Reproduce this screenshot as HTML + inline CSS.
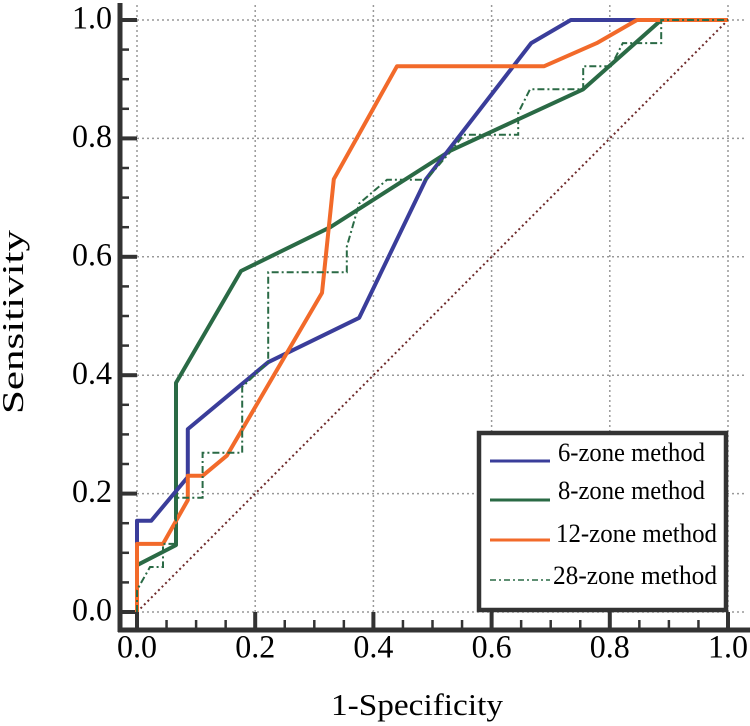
<!DOCTYPE html>
<html><head><meta charset="utf-8"><style>
body{margin:0;background:#fff}
svg{display:block;font-family:"Liberation Serif",serif}
</style></head><body>
<svg id="chart" width="750" height="726" viewBox="0 0 750 726" xmlns="http://www.w3.org/2000/svg">
<g id="grid"></g>
<g id="axes"></g>
<g id="series"></g>
<g id="legend">
<rect x="479" y="433" width="247" height="177" fill="#fff" stroke="#333" stroke-width="4.5"/>
<line x1="490" y1="461" x2="550" y2="461" stroke="#3a3d9a" stroke-width="3"/>
<text x="558" y="455" font-size="26" textLength="147" lengthAdjust="spacingAndGlyphs" dominant-baseline="middle">6-zone method</text>
<line x1="490" y1="500" x2="550" y2="500" stroke="#2a6a45" stroke-width="3"/>
<text x="558" y="493" font-size="26" textLength="147" lengthAdjust="spacingAndGlyphs" dominant-baseline="middle">8-zone method</text>
<line x1="490" y1="540" x2="550" y2="540" stroke="#f26a2a" stroke-width="3"/>
<text x="556" y="536" font-size="26" textLength="161" lengthAdjust="spacingAndGlyphs" dominant-baseline="middle">12-zone method</text>
<line x1="490" y1="580" x2="550" y2="580" stroke="#2a6a45" stroke-width="1.5" stroke-dasharray="6,3,2,3"/>
<text x="553" y="578" font-size="26" textLength="164" lengthAdjust="spacingAndGlyphs" dominant-baseline="middle">28-zone method</text>
</g>
<text x="331" y="708" font-size="31" textLength="172" lengthAdjust="spacingAndGlyphs" dominant-baseline="middle">1-Specificity</text>
<text transform="translate(16,414) rotate(-90)" font-size="31" textLength="184" lengthAdjust="spacingAndGlyphs" dominant-baseline="middle">Sensitivity</text>
</svg>
<script>
const xTicks=[0,0.2,0.4,0.6,0.8,1.0];
const yTicks=[0,0.2,0.4,0.6,0.8,1.0];
const tickLabels=["0.0","0.2","0.4","0.6","0.8","1.0"];
const x6=[0,0,0.024,0.086,0.086,0.222,0.376,0.489,0.667,0.734,1];
const y6=[0.115,0.154,0.154,0.228,0.309,0.422,0.497,0.731,0.961,1,1];
const x8=[0,0.066,0.066,0.176,0.327,0.53,0.755,0.887,1];
const y8=[0.079,0.113,0.387,0.576,0.65,0.779,0.883,1,1];
const x12=[0,0,0.044,0.086,0.086,0.111,0.152,0.313,0.333,0.44,0.689,0.778,0.846,1];
const y12=[0,0.115,0.115,0.189,0.23,0.23,0.264,0.539,0.731,0.922,0.922,0.961,1,1];
const x28=[0,0,0.022,0.044,0.044,0.066,0.066,0.111,0.111,0.178,0.178,0.222,0.222,0.355,0.355,0.376,0.423,0.489,0.53,0.553,0.645,0.645,0.665,0.755,0.755,0.802,0.822,0.887,0.887,1];
const y28=[0,0.037,0.076,0.076,0.115,0.115,0.193,0.193,0.269,0.269,0.38,0.422,0.574,0.574,0.617,0.69,0.73,0.73,0.777,0.806,0.806,0.843,0.883,0.883,0.922,0.922,0.961,0.961,1,1];
const refX=[0,1], refY=[0,1];
const NS="http://www.w3.org/2000/svg";
const X0=137,XS=591,Y0=612,YS=592;
function sx(v){return X0+v*XS;}
function sy(v){return Y0-v*YS;}
function mk(tag,attrs,parent){const e=document.createElementNS(NS,tag);for(const k in attrs)e.setAttribute(k,attrs[k]);parent.appendChild(e);return e;}
const grid=document.getElementById('grid'),axes=document.getElementById('axes'),series=document.getElementById('series');
xTicks.forEach(t=>{const l=mk('line',{x1:sx(t),x2:sx(t),y1:5,y2:628,stroke:'#999','stroke-width':1.5,'stroke-dasharray':'2,3'},grid);

});
yTicks.forEach(t=>{const l=mk('line',{x1:137,x2:745,y1:sy(t),y2:sy(t),stroke:'#999','stroke-width':1.5,'stroke-dasharray':'2,3'},grid);

});
let a=mk('line',{x1:120,x2:120,y1:3,y2:632,stroke:'#333','stroke-width':5},axes);


a=mk('line',{x1:118,x2:750,y1:630,y2:630,stroke:'#333','stroke-width':5},axes);


for(let i=0;i<=20;i++){const v=i*0.05;const major=i%4===0;
 const ty=mk('line',{x1:122,x2:major?137:129,y1:sy(v),y2:sy(v),stroke:'#333','stroke-width':major?4:2.5},axes);
 
 
 const tx=mk('line',{x1:sx(v),x2:sx(v),y1:628,y2:major?612:620,stroke:'#333','stroke-width':major?4:2.5},axes);
 
 }
xTicks.forEach((t,i)=>{const e=mk('text',{x:sx(t)-20,y:650,'font-size':33,textLength:40,lengthAdjust:'spacingAndGlyphs','dominant-baseline':'middle'},axes);e.textContent=tickLabels[i];

});
yTicks.forEach((t,i)=>{const e=mk('text',{x:72,y:sy(t)+1,'font-size':33,textLength:40,lengthAdjust:'spacingAndGlyphs','dominant-baseline':'middle'},axes);e.textContent=tickLabels[i];

});
function pts(xs,ys){return xs.map((x,i)=>sx(x).toFixed(1)+','+sy(ys[i]).toFixed(1)).join(' ');}
let p=mk('polyline',{points:pts(refX,refY),fill:'none',stroke:'#6e2a2a','stroke-width':2,'stroke-dasharray':'2,3'},series);


p=mk('polyline',{points:pts(x8,y8),fill:'none',stroke:'#2a6a45','stroke-width':4,'stroke-linejoin':'round'},series);


p=mk('polyline',{points:pts(x6,y6),fill:'none',stroke:'#3a3d9a','stroke-width':4,'stroke-linejoin':'round'},series);


p=mk('polyline',{points:pts(x12,y12),fill:'none',stroke:'#f26a2a','stroke-width':4,'stroke-linejoin':'round'},series);


p=mk('polyline',{points:pts(x28,y28),fill:'none',stroke:'#2a6a45','stroke-width':2,'stroke-dasharray':'7,3,2,3'},series);


</script>
</body></html>
